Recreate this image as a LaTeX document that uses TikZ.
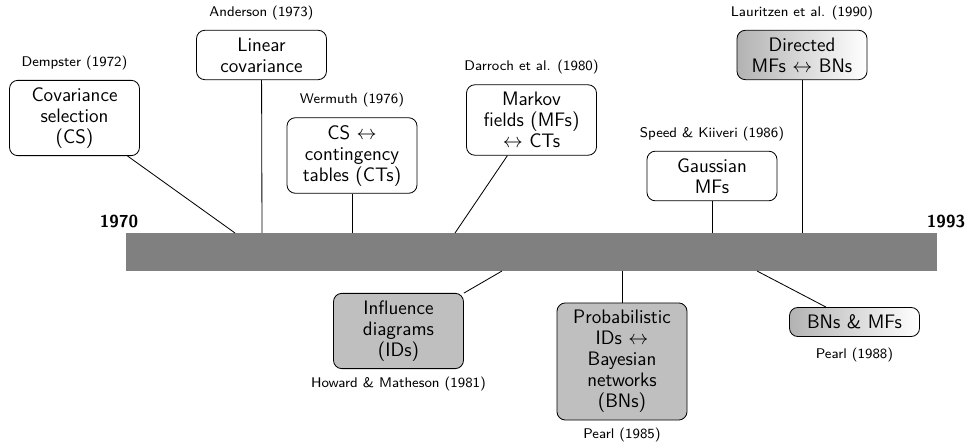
\documentclass[tikz,border=0pt]{standalone}
\usepackage{amsmath}
\usepackage{fontspec}

\tikzset{
  event/.style={draw, line width=0.5pt, rounded corners=5pt, align=center,
    text width=68pt, inner xsep=5pt, inner ysep=4.4pt,
    font=\sffamily\fontsize{11.7}{12.6}\selectfont},
  src/.style={font=\sffamily\fontsize{8.4}{10}\selectfont},
  top/.style={label={[src,label distance=2.6pt]above:#1}},
  bot/.style={label={[src,label distance=1pt]below:#1}},
  later/.style={fill=gray!50},
  fade/.style={left color=gray!60, right color=white},
  year/.style={font=\sffamily\bfseries\fontsize{10.4}{12}\selectfont},
  link/.style={line width=0.5pt}
}

\begin{document}
\begin{tikzpicture}[x=0.6pt,y=-0.6pt]
  \useasboundingbox (0,0) rectangle (967,446);
  % the time line
  \fill[gray] (126,233) rectangle (937,271);
  \node[year] (y70) at (119,221) {1970};
  \node[year] (y93) at (946,221) {1993};

  % above the line
  \node[event,top=Dempster (1972)] (cs) at (74.5,118) {Covariance\\selection\\(CS)};
  \node[event,top=Anderson (1973)] (lin) at (261.5,55) {Linear\\covariance};
  \node[event,top=Wermuth (1976)] (csct) at (352,155.5) {CS $\leftrightarrow$\\contingency\\tables (CTs)};
  \node[event,top=Darroch et al. (1980)] (mf) at (531.5,120) {Markov\\fields (MFs)\\$\leftrightarrow$ CTs};
  \node[event,top=Speed \& Kiiveri (1986)] (gmf) at (712,176) {Gaussian\\MFs};
  \node[event,fade,top=Lauritzen et al. (1990)] (dmf) at (802,55) {Directed\\MFs $\leftrightarrow$ BNs};

  % below the line
  \node[event,later,bot=Howard \& Matheson (1981)] (id) at (398.5,331) {Influence\\diagrams\\(IDs)};
  \node[event,later,bot=Pearl (1985)] (pid) at (622,361.5) {Probabilistic\\IDs $\leftrightarrow$\\Bayesian\\networks\\(BNs)};
  \node[event,fade,label={[src,label distance=3pt]below:Pearl (1988)}] (bnmf) at (854.5,322) {BNs \& MFs};

  \coordinate (a1) at (235,233);
  \coordinate (a2) at (262,233);
  \coordinate (a3) at (352,233);
  \coordinate (a4) at (455,233);
  \coordinate (a5) at (712,233);
  \coordinate (a6) at (802,233);
  \coordinate (b1) at (502,271);
  \coordinate (b2) at (622,271);
  \coordinate (b3) at (757,271);

  \draw[link] (cs) -- (a1);
  \draw[link] (lin) -- (a2);
  \draw[link] (csct) -- (a3);
  \draw[link] (mf) -- (a4);
  \draw[link] (gmf) -- (a5);
  \draw[link] (dmf) -- (a6);
  \draw[link] (id) -- (b1);
  \draw[link] (pid) -- (b2);
  \draw[link] (bnmf) -- (b3);
\end{tikzpicture}
\end{document}
